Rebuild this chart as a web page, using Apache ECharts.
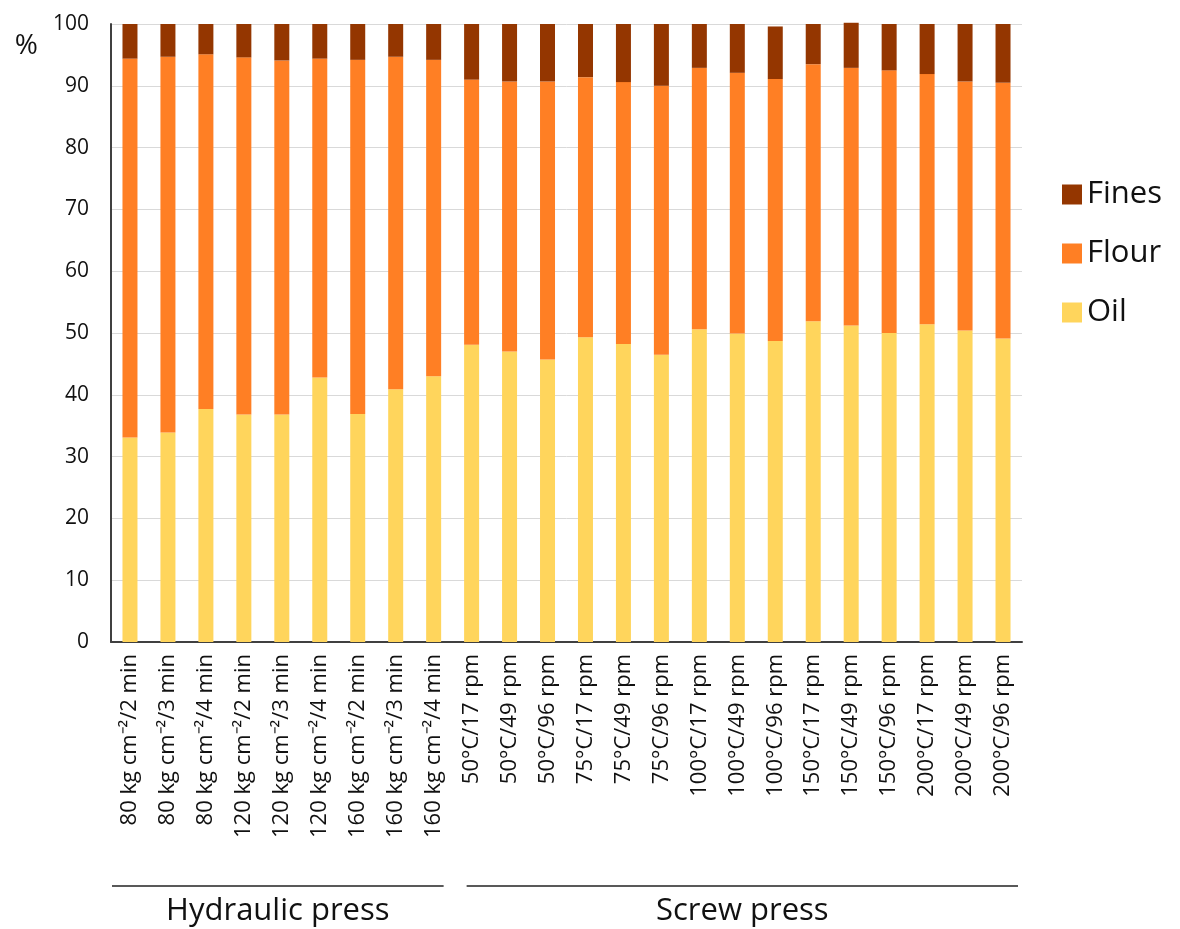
<!DOCTYPE html>
<html>
<head>
<meta charset="utf-8">
<script src="https://cdn.jsdelivr.net/npm/echarts@6/dist/echarts.min.js"></script>
<style>
html,body{margin:0;padding:0;background:#fff;}
#chart{width:1180px;height:929px;}
</style>
</head>
<body>
<div id="chart"></div>
<script>
const categories = [
  "80 kg cm⁻²/2 min","80 kg cm⁻²/3 min","80 kg cm⁻²/4 min",
  "120 kg cm⁻²/2 min","120 kg cm⁻²/3 min","120 kg cm⁻²/4 min",
  "160 kg cm⁻²/2 min","160 kg cm⁻²/3 min","160 kg cm⁻²/4 min",
  "50°C/17 rpm","50°C/49 rpm","50°C/96 rpm",
  "75°C/17 rpm","75°C/49 rpm","75°C/96 rpm",
  "100°C/17 rpm","100°C/49 rpm","100°C/96 rpm",
  "150°C/17 rpm","150°C/49 rpm","150°C/96 rpm",
  "200°C/17 rpm","200°C/49 rpm","200°C/96 rpm"
];
const oil = [33.1,33.9,37.7,36.8,36.8,42.8,36.9,40.9,43.0,48.1,47.0,45.7,49.3,48.2,46.5,50.6,49.9,48.7,51.9,51.2,50.0,51.4,50.4,49.1];
const flour = [61.3,60.8,57.4,57.8,57.3,51.6,57.3,53.8,51.2,42.9,43.7,45.0,42.1,42.4,43.5,42.3,42.2,42.4,41.6,41.7,42.5,40.5,40.3,41.4];
const fines = [5.6,5.3,4.9,5.4,5.9,5.6,5.8,5.3,5.8,9.0,9.3,9.3,8.6,9.4,10.0,7.1,7.9,8.5,6.5,7.3,7.5,8.1,9.3,9.5];
const yTicks = [0,10,20,30,40,50,60,70,80,90,100];
const groups = [
  {name: "Hydraulic press", from: 0, to: 8},
  {name: "Screw press", from: 9, to: 23}
];
const colors = {Oil: "#FFD55C", Flour: "#FF7F24", Fines: "#943600"};

const chart = echarts.init(document.getElementById('chart'));
const option = {
  animation: false,
  backgroundColor: '#fff',
  grid: {left: 111, right: 158, top: 24, bottom: 287, containLabel: false},
  legend: {
    data: ['Fines','Flour','Oil'],
    orient: 'vertical',
    left: 1057, top: 174,
    itemWidth: 20, itemHeight: 20,
    itemGap: 28,
    icon: 'rect',
    textStyle: {fontFamily: 'Open Sans', fontSize: 31, color: '#111', padding: [0,0,0,0]}
  },
  xAxis: {
    type: 'category',
    data: categories,
    axisLine: {lineStyle: {color: '#404040', width: 2}},
    axisTick: {show: false},
    axisLabel: {rotate: 90, interval: 0, margin: 12, fontFamily: 'Open Sans', fontSize: 22, color: '#111'}
  },
  yAxis: {
    type: 'value',
    min: yTicks[0], max: yTicks[yTicks.length-1], interval: 10,
    axisLine: {show: true, lineStyle: {color: '#404040', width: 2}},
    axisTick: {show: false},
    splitLine: {lineStyle: {color: '#d9d9d9', width: 1}},
    axisLabel: {fontFamily: 'Open Sans', fontSize: 21, color: '#111', margin: 22},
    name: '%',
    nameLocation: 'end',
    nameGap: 0,
    nameTextStyle: {fontFamily: 'Open Sans', fontSize: 28, color: '#111', align: 'right', verticalAlign: 'top', padding: [8, 73, 0, 0]}
  },
  series: [
    {name: 'Oil', type: 'bar', stack: 't', data: oil, barWidth: 15, itemStyle: {color: colors.Oil}},
    {name: 'Flour', type: 'bar', stack: 't', data: flour, barWidth: 15, itemStyle: {color: colors.Flour}},
    {name: 'Fines', type: 'bar', stack: 't', data: fines, barWidth: 15, clip: false, itemStyle: {color: colors.Fines}}
  ]
};
chart.setOption(option);

// group brackets under the axis, positioned from the category scale
const p0 = chart.convertToPixel({xAxisIndex: 0}, 0);
const p1 = chart.convertToPixel({xAxisIndex: 0}, 1);
const step = p1 - p0;
const graphics = [];
groups.forEach((g, i) => {
  const a = chart.convertToPixel({xAxisIndex: 0}, g.from) - step/2 + (i === 0 ? 1 : 14);
  const b = chart.convertToPixel({xAxisIndex: 0}, g.to) + step/2 - (i === 0 ? 9 : 4);
  graphics.push({type: 'line', shape: {x1: a, y1: 886, x2: b, y2: 886}, style: {stroke: '#222', lineWidth: 1.5}});
  graphics.push({type: 'text', x: (a+b)/2, y: 911, style: {text: g.name, fontFamily: 'Open Sans', fontSize: 31, fill: '#111', align: 'center', verticalAlign: 'middle'}});
});
chart.setOption({graphic: graphics});
</script>
</body>
</html>
